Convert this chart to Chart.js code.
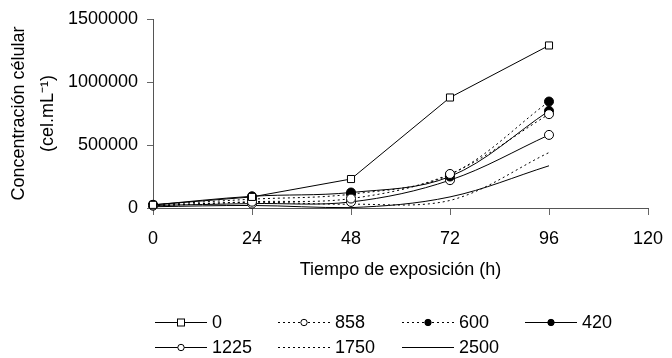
<!DOCTYPE html>
<html><head><meta charset="utf-8">
<script src="https://cdn.jsdelivr.net/npm/chart.js@4"></script>
<style>html,body{margin:0;padding:0;background:#fff}#wrap{width:672px;height:358px}</style>
</head><body><div id="wrap"><canvas id="c" width="672" height="358"></canvas></div>
<script>
const hours = [0, 24, 48, 72, 96];
const xTickValues = [0, 24, 48, 72, 96, 120];
const yTickValues = [0, 500000, 1000000, 1500000];
const seriesNames = ['0', '858', '600', '420', '1225', '1750', '2500'];
const s0    = [25000, 88000, 230000, 877000, 1290000];
const s858  = [20000, 50000, 75000, 270000, 745000];
const s600  = [25000, 70000, 110000, 265000, 845000];
const s420  = [25000, 93000, 123000, 250000, 771000];
const s1225 = [20000, 35000, 48000, 221000, 580000];
const s1750 = [15000, 45000, 30000, 60000, 440000];
const s2500 = [10000, 20000, 3000, 88000, 335000];
const xTitle = 'Tiempo de exposición (h)';
const yTitle = ['Concentración célular', '(cel.mL\u207B\u00B9)'];

const FONT = '"Liberation Sans", Arial, sans-serif';
const FS = 18;
const pts = arr => hours.map((h, i) => ({x: h, y: arr[i]}));
const DOT = [2, 3];
const styles = [
  {pointStyle: 'rect', fill: '#fff', dash: [], tension: 0, r: 5},
  {pointStyle: 'circle', fill: '#fff', dash: DOT, tension: 0.35, r: 4.5},
  {pointStyle: 'circle', fill: '#000', dash: DOT, tension: 0.35, r: 4.5},
  {pointStyle: 'circle', fill: '#000', dash: [], tension: 0.35, r: 4.5},
  {pointStyle: 'circle', fill: '#fff', dash: [], tension: 0.35, r: 4.5},
  {pointStyle: false, fill: '#000', dash: DOT, tension: 0.35, r: 0},
  {pointStyle: false, fill: '#000', dash: [], tension: 0.35, r: 0}
];
const allSeries = [s0, s858, s600, s420, s1225, s1750, s2500];
const datasets = allSeries.map((arr, i) => ({
  label: seriesNames[i],
  data: pts(arr),
  borderColor: '#000',
  borderWidth: 1,
  borderDash: styles[i].dash,
  tension: styles[i].tension,
  pointStyle: styles[i].pointStyle,
  pointRadius: styles[i].r,
  pointBackgroundColor: styles[i].fill,
  pointBorderColor: '#000',
  pointBorderWidth: 1,
  fill: false,
  clip: false
}));

const legendPlugin = {
  id: 'customLegend',
  afterDraw(chart) {
    const ctx = chart.ctx;
    const cols = [155, 278, 402, 525];
    const rows = [322, 347];
    chart.data.datasets.forEach((ds, i) => {
      const r = i < 4 ? 0 : 1, c = i < 4 ? i : i - 4;
      const x = cols[c], y = rows[r];
      ctx.save();
      ctx.strokeStyle = '#000';
      ctx.lineWidth = 1;
      ctx.setLineDash(styles[i].dash);
      ctx.beginPath();
      ctx.moveTo(x, y + 0.5);
      ctx.lineTo(x + 52, y + 0.5);
      ctx.stroke();
      ctx.setLineDash([]);
      const cx = x + 26;
      if (styles[i].pointStyle === 'rect') {
        ctx.fillStyle = '#fff';
        ctx.fillRect(cx - 3.5, y - 3, 7, 7);
        ctx.strokeRect(cx - 3.5, y - 3, 7, 7);
      } else if (styles[i].pointStyle === 'circle') {
        ctx.fillStyle = styles[i].fill;
        ctx.beginPath();
        ctx.arc(cx, y + 0.5, 3.2, 0, Math.PI * 2);
        ctx.fill();
        ctx.stroke();
      }
      ctx.fillStyle = '#000';
      ctx.font = FS + 'px ' + FONT;
      ctx.textBaseline = 'middle';
      ctx.textAlign = 'left';
      ctx.fillText(seriesNames[i], x + 57, y + 1);
      ctx.restore();
    });
  }
};

Chart.defaults.font.family = FONT;
Chart.defaults.font.size = FS;
Chart.defaults.color = '#000';

new Chart(document.getElementById('c'), {
  type: 'line',
  data: {datasets},
  plugins: [legendPlugin],
  options: {
    responsive: false,
    animation: false,
    layout: {padding: {top: 19, right: 24, bottom: 75, left: 0}},
    plugins: {legend: {display: false}, tooltip: {enabled: false}},
    scales: {
      x: {
        type: 'linear', min: 0, max: 120,
        afterBuildTicks: s => { s.ticks = xTickValues.map(v => ({value: v})); },
        ticks: {padding: 13, maxRotation: 0, color: '#000', font: {size: FS}},
        grid: {display: true, drawOnChartArea: false, drawTicks: true, tickLength: 7, color: '#666'},
        border: {display: true, color: '#555', width: 1},
        title: {display: true, text: xTitle, color: '#000', font: {size: FS}, padding: {top: 10, bottom: 2}},
        afterFit: s => { s.height = 75; s.paddingLeft = 0; s.paddingRight = 0; }
      },
      y: {
        type: 'linear', min: 0, max: 1500000,
        afterBuildTicks: s => { s.ticks = yTickValues.map(v => ({value: v})); },
        ticks: {padding: 9, color: '#000', font: {size: FS}, callback: v => String(v)},
        grid: {display: true, drawOnChartArea: false, drawTicks: true, tickLength: 6, color: '#666'},
        border: {display: true, color: '#555', width: 1},
        title: {display: true, text: yTitle, color: '#000', font: {size: FS, lineHeight: 1.6}, padding: {top: 5, bottom: 0}},
        afterFit: s => { s.width = 153; s.paddingTop = 0; s.paddingBottom = 0; }
      }
    }
  }
});
</script></body></html>
